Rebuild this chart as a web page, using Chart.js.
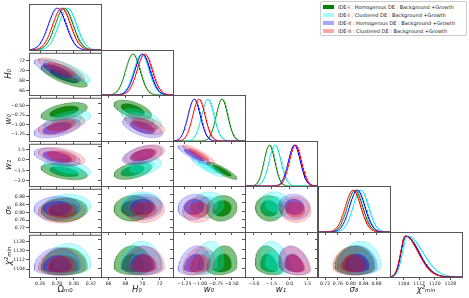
<!DOCTYPE html>
<html>
<head>
<meta charset="utf-8">
<script src="https://cdn.jsdelivr.net/npm/chart.js@4.4.1/dist/chart.umd.min.js"></script>
<style>
  body { margin: 0; background: #fff; width: 469px; height: 298px; position: relative; overflow: hidden; font-family: "DejaVu Sans", sans-serif; }
  canvas { position: absolute; }
  #legend { position: absolute; left: 320px; top: 1px; width: 145px; height: 33px; border: 1px solid #ccc; border-radius: 2px; background: #fff; }
  #legend div { position: absolute; left: 17px; font-size: 5px; line-height: 6px; color: #222; white-space: nowrap; }
  #legend span { position: absolute; left: 2px; width: 11px; height: 4px; }
</style>
</head>
<body>
<div id="legend"></div>
<script>
// parameters and models
const paramLabels = ['Ωₘ₀', 'H₀', 'w₀', 'w₁', 'σ₈', 'χ²ₘᵢₙ'];
const modelNames = [
  'IDE-I : Homogerous DE : Background +Growth',
  'IDE-I : Clustered DE : Background +Growth',
  'IDE-II : Homogerous DE : Background +Growth',
  'IDE-II : Clustered DE : Background +Growth'
];

// posterior peak of each parameter (Ωm0, H0, w0, w1, σ8, χ²min)
const peakIDE1Hom = [0.2885, 68.86, -0.655, -1.69, 0.813, 1105.0];
const peakIDE1Clu = [0.2925, 69.88, -0.878, -1.22, 0.831, 1106.0];
const peakIDE2Hom = [0.2803, 70.00, -1.095, 0.40, 0.820, 1105.0];
const peakIDE2Clu = [0.2855, 70.26, -1.020, 0.49, 0.807, 1104.8];
// 1-sigma widths (for χ²min: lower side)
const sigIDE1Hom = [0.0105, 0.85, 0.092, 0.45, 0.024, 2.4];
const sigIDE1Clu = [0.0105, 0.90, 0.098, 0.50, 0.024, 2.6];
const sigIDE2Hom = [0.0105, 0.90, 0.098, 0.50, 0.024, 2.4];
const sigIDE2Clu = [0.0105, 0.90, 0.098, 0.50, 0.024, 2.4];
// χ²min upper-side widths (skewed tail)
const chi2SigUp = [6.8, 7.8, 6.8, 6.6];

// correlations of the lower-triangle panels, row by row
const corrH0 = [-0.78];
const corrW0 = [0.5, -0.55];
const corrW1 = [-0.45, 0.45, -0.88];
const corrS8 = [0.05, 0.05, 0.1, -0.05];
const corrChi2 = [0.05, 0.0, 0.2, -0.25, 0.0];

// axis ranges and ticks
const axisMin = [0.247, 65.1, -1.43, -3.74, 0.698, 1097];
const axisMax = [0.332, 73.6, -0.29, 2.30, 0.922, 1134];
const ticksOm = [0.26, 0.28, 0.30, 0.32];
const ticksH0 = [66, 68, 70, 72];
const ticksW0 = [-1.25, -1.00, -0.75, -0.50];
const ticksW1 = [-3.0, -1.5, 0.0, 1.5];
const ticksS8 = [0.72, 0.76, 0.80, 0.84, 0.88];
const ticksChi2 = [1104, 1112, 1120, 1128];
const tickDigits = [2, 0, 2, 1, 2, 0];

const peaks = [peakIDE1Hom, peakIDE1Clu, peakIDE2Hom, peakIDE2Clu];
const sigmas = [sigIDE1Hom, sigIDE1Clu, sigIDE2Hom, sigIDE2Clu];
const corrRows = [[], corrH0, corrW0, corrW1, corrS8, corrChi2];
const tickSets = [ticksOm, ticksH0, ticksW0, ticksW1, ticksS8, ticksChi2];

const lineColors = ['#008000', '#00e5e5', '#0000ff', '#ff0000'];
const outerFill = ['rgba(0,128,0,0.5)', 'rgba(0,255,255,0.25)', 'rgba(0,0,255,0.2)', 'rgba(255,0,0,0.18)'];
const innerFill = ['rgba(0,128,0,0.85)', 'rgba(0,255,255,0.35)', 'rgba(0,0,255,0.45)', 'rgba(255,0,0,0.35)'];
const edgeColors = ['rgba(0,90,0,0.6)', 'rgba(0,200,200,0.5)', 'rgba(60,60,200,0.45)', 'rgba(200,60,60,0.45)'];
const legendSwatch = ['#008000', '#a6ffff', '#a6a6ff', '#ffa6a6'];

const colX = [29, 101, 173, 245, 318, 390], PW = 72;
const rowTop = [4, 50, 95, 141, 186, 232], rowBot = [50, 95, 141, 186, 232, 277];

Chart.defaults.font.family = '"DejaVu Sans", sans-serif';
Chart.defaults.color = '#222';

function width(m, p, d) { return (p === 5 && d > 0) ? chi2SigUp[m] : sigmas[m][p]; }

function marginal(m, p) {
  const pts = [];
  for (let k = 0; k <= 150; k++) {
    const x = axisMin[p] + (axisMax[p] - axisMin[p]) * k / 150;
    const d = x - peaks[m][p], s = width(m, p, d);
    pts.push({ x, y: Math.exp(-0.5 * d * d / (s * s)) });
  }
  return pts;
}

function contour(m, px, py, level) {
  const r = corrRows[py][px], pts = [];
  for (let k = 0; k <= 90; k++) {
    const t = 2 * Math.PI * k / 90;
    const u = Math.cos(t), v = r * Math.cos(t) + Math.sqrt(1 - r * r) * Math.sin(t);
    pts.push({ x: peaks[m][px] + level * u * width(m, px, u), y: peaks[m][py] + level * v * width(m, py, v) });
  }
  return pts;
}

const frame = {
  id: 'frame',
  afterDraw(c) {
    const a = c.chartArea, ctx = c.ctx;
    ctx.save();
    ctx.strokeStyle = '#555';
    ctx.lineWidth = 1;
    ctx.strokeRect(a.left + 0.5, a.top + 0.5, a.right - a.left, a.bottom - a.top);
    ctx.restore();
  }
};

const fmt = (v, d) => v.toFixed(d).replace('-', '\u2212');

function axis(p, showLabels, showTitle, pos, size, ticksOn) {
  return {
    type: 'linear', position: pos, min: axisMin[p], max: axisMax[p],
    afterBuildTicks: s => { s.ticks = tickSets[p].map(v => ({ value: v })); },
    afterFit: s => { if (pos === 'left') s.width = size; else s.height = size; },
    border: { display: false },
    grid: { display: ticksOn, drawOnChartArea: false, drawTicks: true, tickLength: 3, color: '#555' },
    ticks: { display: showLabels, autoSkip: false, maxRotation: 0, minRotation: 0, padding: 1,
      font: { size: 4.6 }, callback: v => fmt(v, tickDigits[p]) },
    title: { display: showTitle, text: paramLabels[p], font: { size: 8.5, style: p === 0 ? 'normal' : 'italic' },
      padding: pos === 'left' ? { top: 4, bottom: 0 } : { top: 0, bottom: 3 } }
  };
}

function makePanel(i, j) {
  const L = j === 0 ? 29 : 4, B = i === 5 ? 21 : 4;
  const h = rowBot[i] - rowTop[i];
  const cv = document.createElement('canvas');
  cv.width = PW + L + 1; cv.height = h + B + 1;
  cv.style.left = (colX[j] - L) + 'px';
  cv.style.top = (rowTop[i] - 1) + 'px';
  document.body.appendChild(cv);

  const datasets = [];
  let yScale;
  if (i === j) {
    for (let m = 0; m < 4; m++) {
      datasets.push({ data: marginal(m, i), borderColor: lineColors[m], borderWidth: 1, pointRadius: 0, fill: false });
    }
    yScale = { type: 'linear', min: 0, max: 1.1, afterFit: s => { s.width = L; },
      border: { display: false }, grid: { display: false }, ticks: { display: false } };
  } else {
    for (let m = 0; m < 4; m++) {
      datasets.push({ data: contour(m, j, i, 2.6), backgroundColor: outerFill[m], borderColor: edgeColors[m], borderWidth: 0.5, pointRadius: 0, fill: 'shape' });
      datasets.push({ data: contour(m, j, i, 1.6), backgroundColor: innerFill[m], borderColor: edgeColors[m], borderWidth: 0.5, pointRadius: 0, fill: 'shape' });
    }
    yScale = axis(i, j === 0, j === 0, 'left', L, true);
  }
  // later datasets are painted on top
  datasets.forEach((d, k) => { d.order = datasets.length - k; });

  new Chart(cv, {
    type: 'line',
    data: { datasets },
    options: {
      responsive: false, animation: false, devicePixelRatio: 1, events: [],
      layout: { padding: { top: 1, right: 1, left: 0, bottom: 0 } },
      plugins: { legend: { display: false }, tooltip: { enabled: false } },
      scales: { x: axis(j, i === 5, i === 5, 'bottom', B, true), y: yScale }
    },
    plugins: [frame]
  });
}

for (let i = 0; i < 6; i++) for (let j = 0; j <= i; j++) makePanel(i, j);

const legend = document.getElementById('legend');
modelNames.forEach((name, m) => {
  const sw = document.createElement('span');
  sw.style.top = (3 + 8 * m) + 'px';
  sw.style.background = legendSwatch[m];
  legend.appendChild(sw);
  const t = document.createElement('div');
  t.style.top = (2 + 8 * m) + 'px';
  t.textContent = name;
  legend.appendChild(t);
});
</script>
</body>
</html>
